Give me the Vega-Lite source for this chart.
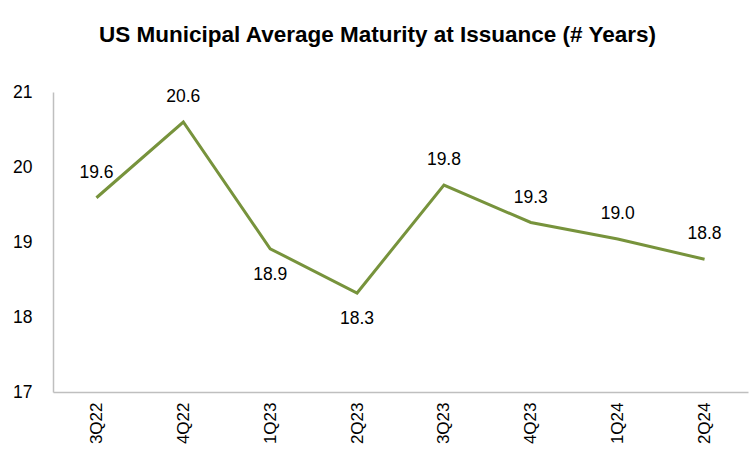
{
  "$schema": "https://vega.github.io/schema/vega-lite/v6.json",
  "autosize": "none",
  "width": 695,
  "height": 300,
  "padding": {"left": 53, "top": 92, "right": 1, "bottom": 61},
  "background": "white",
  "config": {"view": {"stroke": null}, "font": "Liberation Sans"},
  "title": {
    "text": "US Municipal Average Maturity at Issuance (# Years)",
    "font": "Liberation Sans",
    "fontSize": 22.5,
    "fontWeight": "bold",
    "color": "#000000",
    "anchor": "middle",
    "frame": "group",
    "dx": -23,
    "offset": 37
  },
  "data": {
    "values": [
      {"quarter": "3Q22", "years": 19.59},
      {"quarter": "4Q22", "years": 20.6},
      {"quarter": "1Q23", "years": 18.91},
      {"quarter": "2Q23", "years": 18.32},
      {"quarter": "3Q23", "years": 19.76},
      {"quarter": "4Q23", "years": 19.26},
      {"quarter": "1Q24", "years": 19.04},
      {"quarter": "2Q24", "years": 18.77}
    ]
  },
  "encoding": {
    "x": {
      "field": "quarter",
      "type": "ordinal",
      "sort": null,
      "scale": {"type": "point", "padding": 0.5},
      "axis": {
        "title": null,
        "labelAngle": -90,
        "labelFontSize": 17,
        "labelColor": "#000000",
        "labelPadding": 10,
        "ticks": false,
        "domainColor": "#BFBFBF",
        "domainWidth": 1.5,
        "grid": false
      }
    },
    "y": {
      "field": "years",
      "type": "quantitative",
      "scale": {"domain": [17, 21], "nice": false, "zero": false},
      "axis": {
        "title": null,
        "values": [17, 18, 19, 20, 21],
        "labelFontSize": 17.5,
        "labelColor": "#000000",
        "labelPadding": 21,
        "labelAlign": "right",
        "ticks": false,
        "grid": false,
        "domainColor": "#BFBFBF",
        "domainWidth": 1.5
      }
    }
  },
  "layer": [
    {
      "mark": {"type": "line", "color": "#77933C", "strokeWidth": 3}
    },
    {
      "transform": [{"filter": {"not": {"field": "quarter", "oneOf": ["1Q23", "2Q23"]}}}],
      "mark": {"type": "text", "fontSize": 17.5, "dy": -25, "color": "#000000"},
      "encoding": {"text": {"field": "years", "type": "quantitative", "format": ".1f"}}
    },
    {
      "transform": [{"filter": {"field": "quarter", "oneOf": ["1Q23", "2Q23"]}}],
      "mark": {"type": "text", "fontSize": 17.5, "dy": 26, "color": "#000000"},
      "encoding": {"text": {"field": "years", "type": "quantitative", "format": ".1f"}}
    }
  ]
}
